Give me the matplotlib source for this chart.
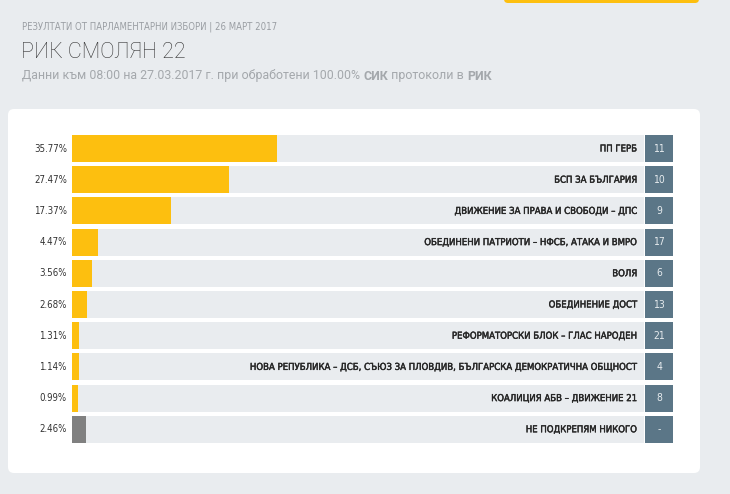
import matplotlib
matplotlib.use('Agg')
import matplotlib.pyplot as plt
import matplotlib.patheffects as pe
from matplotlib.patches import FancyBboxPatch
from matplotlib.transforms import IdentityTransform

parties = ['ПП ГЕРБ', 'БСП ЗА БЪЛГАРИЯ', 'ДВИЖЕНИЕ ЗА ПРАВА И СВОБОДИ – ДПС',
           'ОБЕДИНЕНИ ПАТРИОТИ – НФСБ, АТАКА И ВМРО', 'ВОЛЯ', 'ОБЕДИНЕНИЕ ДОСТ',
           'РЕФОРМАТОРСКИ БЛОК – ГЛАС НАРОДЕН',
           'НОВА РЕПУБЛИКА – ДСБ, СЪЮЗ ЗА ПЛОВДИВ, БЪЛГАРСКА ДЕМОКРАТИЧНА ОБЩНОСТ',
           'КОАЛИЦИЯ АБВ – ДВИЖЕНИЕ 21', 'НЕ ПОДКРЕПЯМ НИКОГО']
percents = [35.77, 27.47, 17.37, 4.47, 3.56, 2.68, 1.31, 1.14, 0.99, 2.46]
ballot_nums = ['11', '10', '9', '17', '6', '13', '21', '4', '8', '-']
bar_colors = ['#fdbf0f'] * 9 + ['#808080']

W, H = 730, 494
narrow = dict(family='DejaVu Sans', stretch='condensed')

fig = plt.figure(figsize=(W / 100, H / 100), dpi=100)
fig.patch.set_facecolor('#e9ecef')

# white panel and the yellow tab at the top
fig.patches.append(FancyBboxPatch((8, H - 473), 692, 364, boxstyle='round,pad=0,rounding_size=6',
                                  transform=IdentityTransform(), fc='white', ec='none', zorder=0))
fig.patches.append(FancyBboxPatch((504, H - 3), 195, 10, boxstyle='round,pad=0,rounding_size=4',
                                  transform=IdentityTransform(), fc='#fdbf0f', ec='none', zorder=0))

# headings
fig.text(22 / W, 1 - 27 / H, 'РЕЗУЛТАТИ ОТ ПАРЛАМЕНТАРНИ ИЗБОРИ | 26 МАРТ 2017', **narrow,
         fontsize=6.85, color='#9a9ea3', va='center', ha='left')
fig.text(21 / W, 1 - 52 / H, 'РИК СМОЛЯН 22', family=['Roboto', 'DejaVu Sans'], weight='light',
         fontsize=15.5, color='#333333', va='center', ha='left')

pieces = [('Данни към 08:00 на 27.03.2017 г. при обработени 100.00% ', 'normal'),
          ('СИК', 'bold'), (' протоколи в ', 'normal'), ('РИК', 'bold')]
renderer = fig.canvas.get_renderer()
x = 22
for txt, w in pieces:
    t = fig.text(x / W, 1 - 76 / H, txt, family=['Roboto', 'DejaVu Sans'], weight=w,
                 fontsize=8.9, color='#a4a8ac', va='center', ha='left')
    x += t.get_window_extent(renderer).width

# bars
n = len(parties)
top, bottom = 132.9, 444.9
ax = fig.add_axes([72 / W, 1 - bottom / H, 602 / W, (bottom - top) / H])
ax.set_zorder(2)
ax.set_xlim(0, 105.24)
ax.set_ylim(n - 0.5, -0.5)
ax.axis('off')

rows = range(n)
bh = 27 / 31.2
ax.barh(rows, [100] * n, height=bh, color='#e9ecef', left=0)
ax.barh(rows, percents, height=bh, color=bar_colors)
ax.barh(rows, [4.9] * n, left=100.17, height=bh, color='#5b7687')

thick = [pe.withStroke(linewidth=0.3, foreground='#262626')]
for i in rows:
    ax.text(-0.9, i, f'{percents[i]:.2f}%', ha='right', va='center', **narrow,
            fontsize=6.9, color='#333333')
    ax.text(98.8, i, parties[i], ha='right', va='center', **narrow,
            fontsize=6.85, color='#262626', path_effects=thick)
    ax.text(102.62, i, ballot_nums[i], ha='center', va='center', **narrow,
            fontsize=7.5, color='#e6ebee')

fig.savefig('out.png', dpi=100, facecolor=fig.get_facecolor())
